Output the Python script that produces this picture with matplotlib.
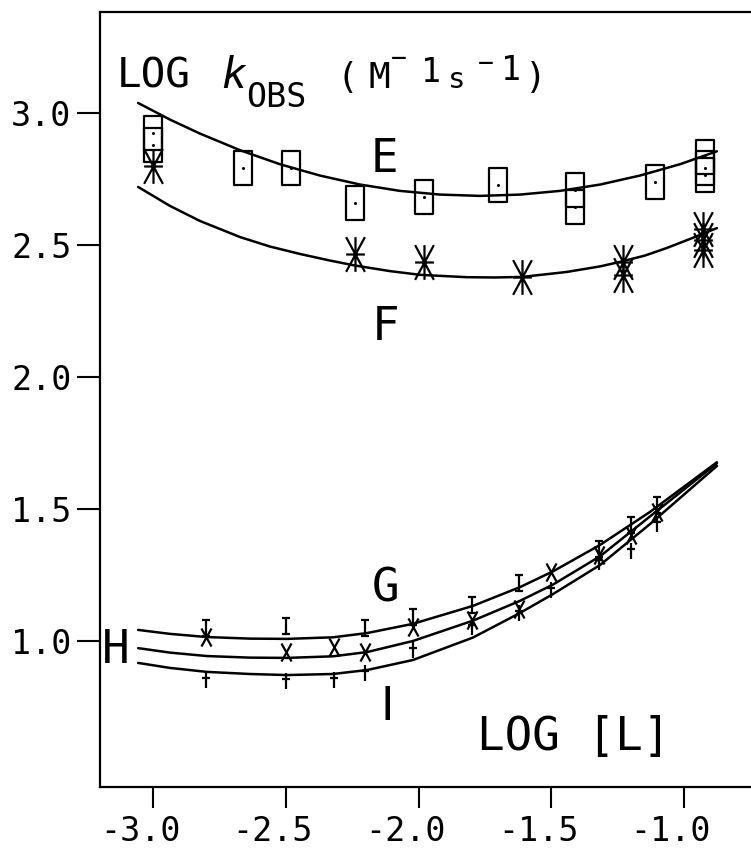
import matplotlib
matplotlib.use("Agg")
import matplotlib.pyplot as plt
from matplotlib.path import Path
from matplotlib.transforms import ScaledTranslation

# ---- series E (boxes) and its fitted curve ----
e_x = [-3.00, -3.00, -2.66, -2.48, -2.24, -1.98, -1.70, -1.41, -1.41, -1.11, -0.92, -0.92, -0.92]
e_y = [2.926, 2.877, 2.79, 2.79, 2.66, 2.68, 2.727, 2.708, 2.644, 2.739, 2.833, 2.792, 2.765]
e_fit_x = [-3.056, -2.936, -2.823, -2.672, -2.522, -2.371, -2.220, -2.070, -1.919, -1.768,
           -1.617, -1.467, -1.316, -1.166, -1.015, -0.876]
e_fit_y = [3.038, 2.975, 2.922, 2.859, 2.806, 2.763, 2.729, 2.705, 2.691, 2.686,
           2.691, 2.705, 2.729, 2.763, 2.806, 2.855]

# ---- series F (asterisks) and its fitted curve ----
f_x = [-3.00, -2.24, -1.98, -1.61, -1.23, -1.23, -0.93, -0.93, -0.93]
f_y = [2.80, 2.466, 2.436, 2.377, 2.436, 2.386, 2.56, 2.52, 2.48]
f_fit_x = [-3.056, -2.936, -2.823, -2.672, -2.559, -2.446, -2.333, -2.243, -2.107, -1.994,
           -1.817, -1.712, -1.610, -1.441, -1.316, -1.241, -1.147, -1.064, -0.977, -0.876]
f_fit_y = [2.720, 2.648, 2.591, 2.530, 2.494, 2.466, 2.441, 2.423, 2.401, 2.387,
           2.378, 2.377, 2.379, 2.398, 2.419, 2.436, 2.460, 2.489, 2.523, 2.564]

# ---- series G (I-bars), H (crosses), I (daggers) ----
g_x = [-2.80, -2.50, -2.20, -2.02, -1.80, -1.62, -1.32, -1.20, -1.10]
g_y = [1.049, 1.057, 1.049, 1.091, 1.136, 1.22, 1.35, 1.44, 1.515]
h_x = [-2.80, -2.50, -2.32, -2.20, -2.02, -1.80, -1.62, -1.50, -1.32, -1.20, -1.10]
h_y = [1.015, 0.958, 0.977, 0.958, 1.053, 1.08, 1.12, 1.26, 1.326, 1.40, 1.49]
i_x = [-2.80, -2.50, -2.32, -2.20, -2.02, -1.80, -1.62, -1.50, -1.32, -1.20, -1.10]
i_y = [0.852, 0.848, 0.852, 0.879, 0.966, 1.053, 1.106, 1.193, 1.30, 1.34, 1.443]

low_fit_x = [-3.056, -2.936, -2.797, -2.635, -2.495, -2.322, -2.194, -2.021, -1.795,
             -1.618, -1.493, -1.316, -1.128, -0.876]
g_fit_y = [1.042, 1.027, 1.015, 1.009, 1.008, 1.014, 1.030, 1.065, 1.133,
           1.204, 1.264, 1.364, 1.489, 1.677]
h_fit_y = [0.973, 0.956, 0.943, 0.937, 0.936, 0.942, 0.958, 1.000, 1.077,
           1.152, 1.214, 1.321, 1.472, 1.673]
i_fit_y = [0.917, 0.898, 0.883, 0.875, 0.871, 0.875, 0.890, 0.928, 1.013,
           1.106, 1.178, 1.288, 1.443, 1.663]

x_ticks = [-3.0, -2.5, -2.0, -1.5, -1.0]
x_tick_labels = ["-3.0", "-2.5", "-2.0", "-1.5", "-1.0"]
y_ticks = [1.0, 1.5, 2.0, 2.5, 3.0]
y_tick_labels = ["1.0", "1.5", "2.0", "2.5", "3.0"]

MONO = "DejaVu Sans Mono"
W, H = 751, 849

M, L = Path.MOVETO, Path.LINETO


def seg_path(segments):
    verts, codes = [], []
    for (a, b) in segments:
        verts += [a, b]
        codes += [M, L]
    return Path(verts, codes)


box_marker = Path([(-0.25, -0.5), (0.25, -0.5), (0.25, 0.5), (-0.25, 0.5), (-0.25, -0.5)],
                  [M, L, L, L, Path.CLOSEPOLY])
star_marker = seg_path([((0, -0.5), (0, 0.5)),
                        ((-0.27, -0.5), (0.27, 0.5)),
                        ((0.27, -0.5), (-0.27, 0.5)),
                        ((-0.27, 0.0), (0.27, 0.0))])
ibar_marker = seg_path([((0, -0.5), (0, 0.5)),
                        ((-0.25, 0.5), (0.25, 0.5)),
                        ((-0.25, -0.5), (0.25, -0.5))])
x_marker = seg_path([((-0.28, -0.5), (0.28, 0.5)),
                     ((0.28, -0.5), (-0.28, 0.5))])
dagger_marker = seg_path([((0, -0.5), (0, 0.5)),
                          ((-0.25, 0.15), (0.25, 0.15))])

fig = plt.figure(figsize=(W / 100, H / 100), dpi=100)
ax = fig.add_axes([100 / W, 62 / H, 651 / W, 775 / H])

ax.set_xlim(-3.0 - 53 / 265.5, -3.0 + 598 / 265.5)
ax.set_ylim(1.0 - 146 / 264, 3.0 + 101 / 264)

curve_kw = dict(color="black", lw=1.8, solid_joinstyle="round", solid_capstyle="round")
for fx, fy in [(e_fit_x, e_fit_y), (f_fit_x, f_fit_y), (low_fit_x, g_fit_y),
               (low_fit_x, h_fit_y), (low_fit_x, i_fit_y)]:
    ax.plot(fx, fy, **curve_kw)

mk_kw = dict(ls="none", mfc="none", mec="black", mew=1.6)
ax.plot(e_x, e_y, marker=box_marker, ms=25, **mk_kw)
ax.plot(e_x, e_y, ls="none", marker="o", ms=2.2, mfc="black", mec="black", mew=0)
ax.plot(f_x, f_y, marker=star_marker, ms=25, **mk_kw)
ax.plot(g_x, g_y, marker=ibar_marker, ms=11, **mk_kw)
ax.plot(h_x, h_y, marker=x_marker, ms=13, **mk_kw)
ax.plot(i_x, i_y, marker=dagger_marker, ms=12, **mk_kw)

# frame: the right side runs off the page
ax.spines["right"].set_visible(False)
for s in ("left", "top", "bottom"):
    ax.spines[s].set_linewidth(1.6)

ax.set_xticks(x_ticks)
ax.set_xticklabels(x_tick_labels, family=MONO, fontsize=24)
ax.set_yticks(y_ticks)
ax.set_yticklabels(y_tick_labels, family=MONO, fontsize=24)
ax.tick_params(axis="y", direction="out", length=16.5, width=1.5, pad=4)
ax.tick_params(axis="x", direction="out", length=15, width=1.5, pad=5)
shift = ScaledTranslation(-13 / 100, 0, fig.dpi_scale_trans)
for lab in ax.get_xticklabels():
    lab.set_transform(lab.get_transform() + shift)


def ptext(x, y, s, size, family=MONO, ha="center", va="baseline", **kw):
    fig.text(x / W, 1 - y / H, s, fontsize=size, family=family, ha=ha, va=va, **kw)


# y-axis quantity, written across the top of the frame
ptext(117, 88, "LOG", 29.5, ha="left")
ptext(234, 88, "k", 30, style="italic")
ptext(276, 107, "OBS", 24)
ptext(347, 88, "(", 26)
ptext(379, 88, "M", 26)
ptext(399, 66, "\u2212", 19)
ptext(431, 82, "1", 24)
ptext(457, 88, "s", 21)
ptext(486, 71, "\u2212", 19)
ptext(511, 80, "1", 24)
ptext(536, 88, ")", 26)

# curve labels
ptext(384, 172, "E", 33)
ptext(386, 340, "F", 33)
ptext(386, 602, "G", 33)
ptext(116, 663, "H", 33)
ptext(387, 720, "I", 33, family="DejaVu Sans")

# x-axis quantity
ptext(477, 750, "LOG [L]", 33, ha="left")

fig.savefig("out.png", dpi=100)
